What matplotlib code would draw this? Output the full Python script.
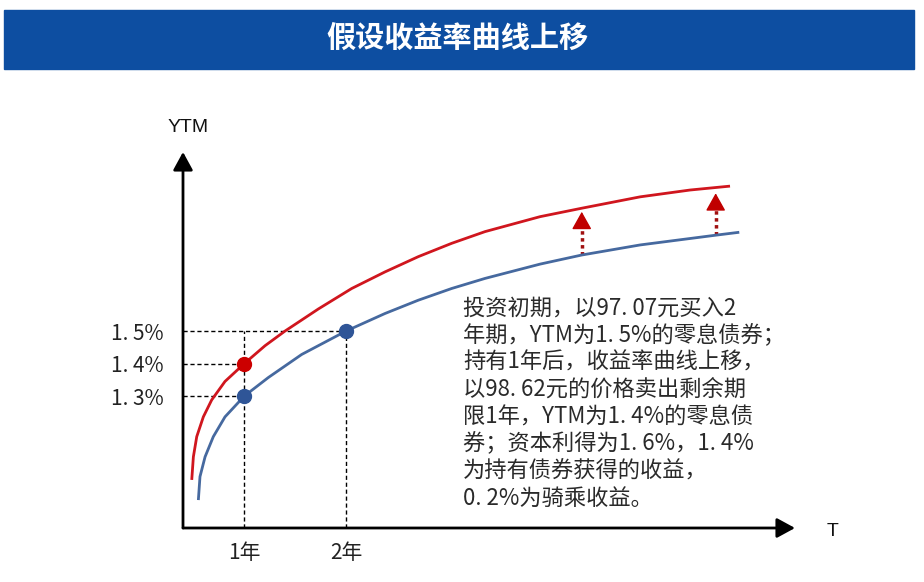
"""
Yield curve shift sketch: riding the yield curve.
"""

import matplotlib
matplotlib.use("Agg")
import matplotlib.pyplot as plt
from matplotlib.patches import Rectangle

plt.rcParams['font.family'] = ['Noto Sans CJK SC', 'DejaVu Sans']

# ---- data (T in years, YTM in %) ----
title = "假设收益率曲线上移"

red_t = [0.483, 0.499, 0.532, 0.597, 0.679, 0.810, 1.000, 1.204, 1.400, 1.728,
         2.056, 2.383, 2.711, 3.039, 3.367, 3.908, 4.318, 4.892, 5.383, 5.776]
red_y = [1.042, 1.113, 1.175, 1.236, 1.288, 1.345, 1.400, 1.455, 1.500, 1.568,
         1.631, 1.682, 1.729, 1.770, 1.806, 1.852, 1.878, 1.913, 1.934, 1.946]

blue_t = [0.548, 0.564, 0.614, 0.695, 0.810, 1.000, 1.236, 1.564, 2.000, 2.383,
          2.711, 3.039, 3.367, 3.908, 4.318, 4.892, 5.635, 5.867]
blue_y = [0.980, 1.052, 1.113, 1.175, 1.236, 1.300, 1.357, 1.428, 1.500, 1.554,
          1.595, 1.631, 1.662, 1.706, 1.734, 1.765, 1.795, 1.804]

red_dot_t = [1]
red_dot_y = [1.4]
blue_dot_t = [1, 2]
blue_dot_y = [1.3, 1.5]

# upward shift arrows: (T, from, to)
shift_t = [4.318, 5.635]
shift_from = [1.734, 1.795]
shift_to = [1.867, 1.924]

x_ticks = [1, 2]
x_labels = ["1年", "2年"]
y_ticks = [1.3, 1.4, 1.5]
y_labels = ["1. 3%", "1. 4%", "1. 5%"]

note_lines = [
    "投资初期，以97. 07元买入2",
    "年期，YTM为1. 5%的零息债券；",
    "持有1年后，收益率曲线上移，",
    "以98. 62元的价格卖出剩余期",
    "限1年，YTM为1. 4%的零息债",
    "券；资本利得为1. 6%，1. 4%",
    "为持有债券获得的收益，",
    "0. 2%为骑乘收益。",
]

W, H = 924, 582
RED = "#d0161e"
BLUE = "#46699f"


def px(x, y):
    return x / W, 1 - y / H


fig = plt.figure(figsize=(W / 100, H / 100), dpi=100)
fig.patch.set_facecolor("white")

# banner
fig.add_artist(Rectangle(px(4, 69), 910 / W, 59 / H, transform=fig.transFigure,
                         color="#0d4ea1", zorder=0))
fig.text(*px(457, 38), title, color="white", fontsize=21, fontweight="bold",
         ha="center", va="center")

# main axes: left spine at x=183px, bottom at y=528px
left, bottom = px(183, 528)
right, top = px(795, 152)
ax = fig.add_axes([left, bottom, right - left, top - bottom])
ax.set_xlim(0.397, 6.415)
ax.set_ylim(0.894, 2.051)
for s in ax.spines.values():
    s.set_visible(False)
ax.patch.set_alpha(0)

ax.set_xticks(x_ticks, x_labels)
ax.set_yticks(y_ticks, y_labels)
ax.tick_params(axis="both", length=0, labelsize=15, colors="#222222")
ax.tick_params(axis="y", pad=14)
ax.tick_params(axis="x", pad=10)

# axis arrows
arrow_kw = dict(arrowstyle="-|>,head_length=0.55,head_width=0.3", color="black",
                lw=2, mutation_scale=20, shrinkA=0, shrinkB=0)
ax.annotate("", xy=(0, 1), xytext=(0, 0), xycoords="axes fraction",
            arrowprops=arrow_kw, annotation_clip=False)
ax.annotate("", xy=(1, 0), xytext=(0, 0), xycoords="axes fraction",
            arrowprops=arrow_kw, annotation_clip=False)
fig.text(*px(188, 128), "YTM", fontsize=14, family="Liberation Sans",
         color="#111111", ha="center", va="center")
fig.text(*px(833, 532), "T", fontsize=14, family="Liberation Sans",
         color="#111111", ha="center", va="center")

# guide lines
x0 = ax.get_xlim()[0]
y0 = ax.get_ylim()[0]
guide = dict(color="black", lw=1, dashes=(3, 2), zorder=1)
ax.plot([x0, blue_dot_t[1]], [blue_dot_y[1]] * 2, **guide)
ax.plot([x0, red_dot_t[0]], [red_dot_y[0]] * 2, **guide)
ax.plot([x0, blue_dot_t[0]], [blue_dot_y[0]] * 2, **guide)
ax.plot([x_ticks[0]] * 2, [y0, y_ticks[2]], **guide)
ax.plot([x_ticks[1]] * 2, [y0, blue_dot_y[1]], **guide)

# curves and points
ax.plot(red_t, red_y, color=RED, lw=2, zorder=3, solid_capstyle="butt",
        solid_joinstyle="round")
ax.plot(blue_t, blue_y, color=BLUE, lw=2, zorder=3, solid_capstyle="butt",
        solid_joinstyle="round")
ax.plot(red_dot_t, red_dot_y, "o", color="#cc0000", ms=10, zorder=4)
ax.plot(blue_dot_t, blue_dot_y, "o", color="#2f5597", ms=10, zorder=4)

# upward shift arrows
for t, a, b in zip(shift_t, shift_from, shift_to):
    ax.plot([t, t], [a, b - 0.035], color="#a01010", lw=2.5, ls=(0, (1, 1)), zorder=2)
    ax.annotate("", xy=(t, b), xytext=(t, b - 0.04),
                arrowprops=dict(arrowstyle="-|>,head_length=0.5,head_width=0.28",
                                color="#c00000", lw=1, mutation_scale=22,
                                shrinkA=0, shrinkB=0))

# note text
for i, line in enumerate(note_lines):
    fig.text(*px(463, 308 + i * 27.2), line, fontsize=16, color="#2a2a2a",
             ha="left", va="center")

fig.savefig("out.png", dpi=100)
